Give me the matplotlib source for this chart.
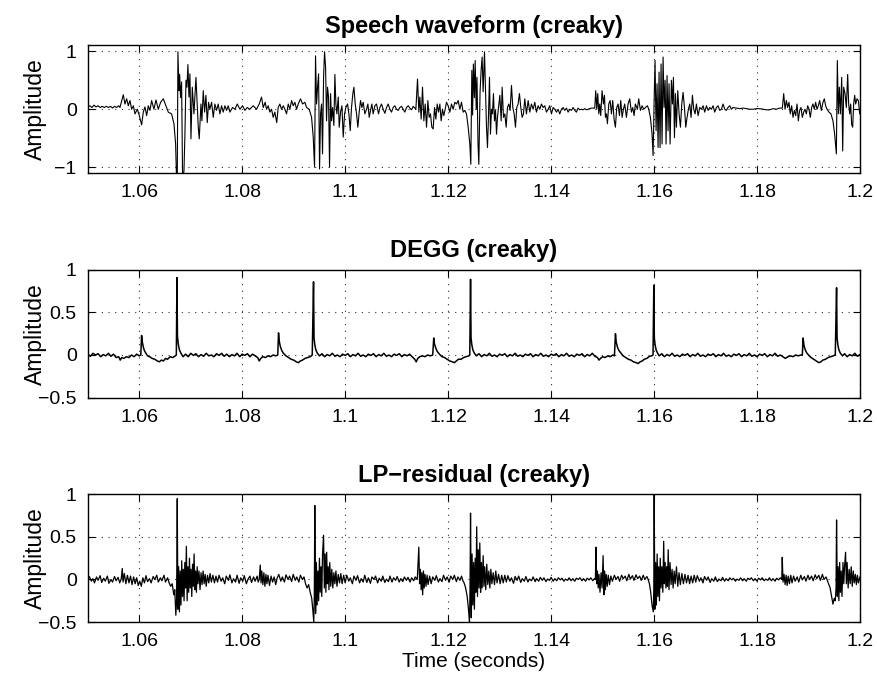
import numpy as np
import matplotlib
matplotlib.use("Agg")
import matplotlib.pyplot as plt

plt.rcParams['font.family'] = ['Liberation Sans', 'DejaVu Sans']

# time in ms, amplitude
speech = [
    (1050.0, 0.04), (1050.4, 0.06), (1050.8, 0.03), (1051.2, 0.07), (1051.6, 0.04), (1052.0, 0.06),
    (1052.4, 0.03), (1052.8, 0.05), (1053.2, 0.03), (1053.6, 0.05), (1054.0, 0.03), (1054.4, 0.05),
    (1054.8, 0.02), (1055.2, 0.05), (1055.6, 0.03), (1056.0, 0.06), (1056.25, 0.03), (1056.9, 0.25),
    (1057.22, 0.09), (1057.55, 0.18), (1057.87, 0.06), (1058.19, 0.15), (1058.52, 0.0), (1058.84, 0.06),
    (1059.17, -0.08), (1059.62, 0.0), (1060.01, -0.11), (1060.46, -0.27), (1060.78, -0.05), (1061.11, 0.04),
    (1061.43, -0.11), (1061.75, 0.06), (1062.08, -0.02), (1062.4, 0.15), (1062.85, 0.0), (1063.24, 0.16),
    (1063.69, 0.0), (1064.15, 0.12), (1064.67, 0.18), (1065.18, 0.06), (1065.64, -0.05), (1066.28, -0.08),
    (1066.74, -0.25), (1067.06, -0.6), (1067.25, -1.25), (1067.38, -1.25), (1067.51, 0.99), (1067.71, 0.32),
    (1067.84, 0.6), (1068.03, 0.2), (1068.22, 0.47), (1068.42, -1.25), (1068.68, -1.06), (1068.87, -0.43),
    (1069.07, 0.5), (1069.26, 0.38), (1069.45, 0.77), (1069.65, 0.21), (1069.84, 0.61), (1070.04, -0.51),
    (1070.3, 0.38), (1070.62, -0.08), (1071.01, 0.55), (1071.27, 0.03), (1071.46, -0.31), (1071.65, -0.51),
    (1071.98, 0.09), (1072.17, -0.2), (1072.43, 0.32), (1072.69, -0.05), (1072.95, 0.24), (1073.21, -0.23),
    (1073.46, 0.12), (1073.72, 0.0), (1074.05, 0.12), (1074.37, -0.14), (1074.69, 0.09), (1075.02, -0.02),
    (1075.34, 0.09), (1075.66, -0.08), (1075.99, 0.06), (1076.31, -0.05), (1076.64, 0.06), (1076.96, -0.02),
    (1077.28, 0.06), (1077.61, -0.05), (1078.12, 0.03), (1078.58, 0.0), (1079.03, 0.09), (1079.55, 0.0),
    (1080.06, 0.06), (1080.52, -0.02), (1080.97, 0.03), (1081.49, 0.0), (1082.13, 0.06), (1082.78, 0.0),
    (1083.3, 0.09), (1083.75, 0.21), (1084.08, 0.03), (1084.46, 0.12), (1084.72, 0.0), (1085.05, 0.06),
    (1085.37, -0.05), (1085.69, 0.0), (1086.02, -0.14), (1086.34, -0.05), (1086.7, -0.23), (1086.99, 0.03),
    (1087.31, 0.09), (1087.63, 0.0), (1087.97, 0.06), (1088.29, 0.0), (1088.61, -0.08), (1088.94, 0.09),
    (1089.26, 0.0), (1089.59, 0.15), (1089.91, 0.06), (1090.23, 0.12), (1090.56, 0.0), (1090.88, 0.09),
    (1091.33, 0.18), (1091.72, 0.09), (1092.17, 0.12), (1092.5, 0.03), (1093.01, 0.0), (1093.47, -0.14),
    (1093.79, -0.48), (1094.05, -1.0), (1094.24, 0.92), (1094.44, 0.09), (1094.63, 0.38), (1094.83, 0.61),
    (1095.02, -1.03), (1095.22, -0.08), (1095.41, 0.09), (1095.6, -0.77), (1095.8, 0.55), (1095.99, 0.99),
    (1096.19, 0.73), (1096.38, -0.2), (1096.57, 0.38), (1096.77, 0.21), (1096.96, -1.0), (1097.16, 0.27),
    (1097.35, -0.2), (1097.55, 0.03), (1097.8, -0.28), (1098.0, 0.6), (1098.19, 0.09), (1098.39, -0.08),
    (1098.65, 0.21), (1098.84, -0.31), (1099.1, -0.05), (1099.36, 0.06), (1099.62, -0.48), (1099.88, -0.08),
    (1100.13, 0.03), (1100.46, 0.09), (1100.72, -0.08), (1100.98, -0.37), (1101.23, 0.03), (1101.49, 0.27),
    (1101.69, 0.38), (1101.95, 0.09), (1102.21, -0.08), (1102.46, -0.31), (1102.72, -0.05), (1102.98, 0.15),
    (1103.24, 0.03), (1103.5, 0.12), (1103.82, -0.08), (1104.15, 0.0), (1104.41, 0.09), (1104.67, -0.14),
    (1104.92, -0.02), (1105.18, 0.09), (1105.44, -0.08), (1105.76, 0.06), (1106.09, 0.09), (1106.48, -0.08),
    (1106.74, 0.03), (1107.06, 0.09), (1107.38, 0.0), (1107.71, -0.07), (1108.03, 0.03), (1108.35, 0.09),
    (1108.68, 0.0), (1109.0, -0.05), (1109.32, 0.03), (1109.65, 0.06), (1109.97, 0.0), (1110.3, -0.02),
    (1110.62, 0.03), (1110.94, 0.05), (1111.27, 0.0), (1111.59, -0.05), (1111.91, 0.03), (1112.24, 0.06),
    (1112.56, 0.02), (1112.88, -0.01), (1113.21, 0.05), (1113.73, 0.0), (1114.05, 0.52), (1114.31, -0.05),
    (1114.5, 0.21), (1114.76, -0.17), (1115.02, 0.38), (1115.28, -0.2), (1115.54, 0.09), (1115.8, -0.31),
    (1116.06, 0.15), (1116.31, -0.14), (1116.57, -0.08), (1116.83, -0.31), (1117.09, -0.34), (1117.35, 0.03),
    (1117.61, -0.17), (1117.87, 0.09), (1118.13, -0.05), (1118.39, 0.09), (1118.64, -0.2), (1118.9, 0.0),
    (1119.16, -0.11), (1119.42, 0.0), (1119.68, 0.12), (1120.0, 0.06), (1120.33, -0.05), (1120.65, 0.09),
    (1120.97, 0.0), (1121.3, 0.12), (1121.62, 0.09), (1121.95, 0.15), (1122.27, 0.0), (1122.59, 0.12),
    (1122.92, -0.05), (1123.24, -0.02), (1123.56, -0.08), (1123.89, -0.31), (1124.21, -0.6), (1124.4, -0.95),
    (1124.6, 0.67), (1124.75, -0.1), (1124.9, 0.78), (1125.1, 0.2), (1125.25, 0.84), (1125.45, 0.0),
    (1125.6, 0.55), (1125.8, -0.6), (1125.96, -0.95), (1126.2, 0.3), (1126.4, 0.67), (1126.6, 0.9),
    (1126.8, 0.3), (1127.06, 0.99), (1127.25, 0.38), (1127.45, -0.31), (1127.64, -0.66), (1127.83, -0.14),
    (1128.03, 0.55), (1128.22, -0.43), (1128.42, 0.0), (1128.61, -0.08), (1128.8, 0.27), (1129.0, -0.2),
    (1129.2, -0.02), (1129.4, -0.43), (1129.58, -0.14), (1129.85, 0.09), (1130.04, 0.24), (1130.3, -0.2),
    (1130.49, 0.38), (1130.75, -0.14), (1131.01, -0.08), (1131.27, -0.31), (1131.52, 0.03), (1131.78, 0.09),
    (1132.04, -0.02), (1132.3, 0.41), (1132.56, 0.03), (1132.82, -0.08), (1133.08, -0.31), (1133.33, 0.03),
    (1133.59, 0.09), (1133.85, 0.27), (1134.11, 0.03), (1134.37, -0.14), (1134.63, -0.08), (1134.89, 0.18),
    (1135.21, -0.08), (1135.54, 0.15), (1135.86, -0.05), (1136.18, 0.09), (1136.51, 0.0), (1136.83, 0.12),
    (1137.15, -0.05), (1137.48, 0.06), (1137.8, 0.0), (1138.12, 0.09), (1138.45, 0.03), (1138.77, 0.06),
    (1139.09, -0.05), (1139.42, 0.0), (1139.74, 0.06), (1140.07, -0.08), (1140.39, 0.03), (1140.71, 0.0),
    (1141.04, -0.05), (1141.36, 0.0), (1141.68, -0.08), (1142.01, 0.0), (1142.33, 0.03), (1142.66, -0.02),
    (1142.98, 0.02), (1143.3, -0.05), (1143.63, 0.0), (1143.95, -0.02), (1144.27, 0.03), (1144.6, -0.02),
    (1144.92, -0.05), (1145.24, 0.02), (1145.57, -0.01), (1145.89, 0.0), (1146.22, -0.01), (1146.54, 0.01),
    (1146.86, -0.01), (1147.19, 0.0), (1147.51, 0.01), (1147.83, 0.02), (1148.48, 0.02), (1148.67, 0.32),
    (1148.87, 0.0), (1149.06, 0.27), (1149.26, -0.08), (1149.45, 0.09), (1149.64, -0.11), (1149.9, 0.32),
    (1150.16, 0.09), (1150.36, 0.24), (1150.55, -0.14), (1150.75, -0.08), (1150.94, -0.25), (1151.2, 0.09),
    (1151.46, 0.15), (1151.72, -0.08), (1151.97, 0.15), (1152.23, -0.17), (1152.49, -0.31), (1152.75, 0.03),
    (1153.01, 0.09), (1153.27, -0.11), (1153.53, 0.15), (1153.79, -0.14), (1154.05, 0.0), (1154.3, 0.09),
    (1154.63, -0.14), (1154.95, 0.09), (1155.27, 0.18), (1155.6, -0.05), (1155.86, 0.03), (1156.12, -0.11),
    (1156.37, 0.09), (1156.76, 0.0), (1157.02, 0.18), (1157.35, -0.02), (1157.67, 0.06), (1157.99, 0.0),
    (1158.32, 0.03), (1158.71, 0.06), (1158.96, 0.0), (1159.29, -0.14), (1159.61, -0.43), (1159.81, -0.8),
    (1160.0, 0.09), (1160.19, 0.84), (1160.39, -0.37), (1160.58, 0.44), (1160.78, -0.66), (1160.97, 0.64),
    (1161.16, -0.66), (1161.36, 0.78), (1161.55, -0.6), (1161.75, 0.9), (1161.94, 0.03), (1162.14, 0.5),
    (1162.33, -0.6), (1162.52, 0.58), (1162.72, -0.37), (1162.91, 0.44), (1163.11, -0.6), (1163.37, 0.5),
    (1163.57, 0.09), (1163.76, 0.55), (1163.96, -0.49), (1164.15, 0.27), (1164.34, -0.31), (1164.6, 0.32),
    (1164.86, -0.08), (1165.12, -0.31), (1165.38, 0.09), (1165.64, 0.29), (1165.9, 0.03), (1166.16, -0.31),
    (1166.41, -0.14), (1166.67, 0.0), (1166.93, 0.09), (1167.19, -0.14), (1167.45, 0.24), (1167.71, 0.0),
    (1167.97, -0.08), (1168.23, 0.09), (1168.55, -0.11), (1168.87, 0.03), (1169.2, 0.0), (1169.52, 0.06),
    (1169.84, -0.05), (1170.17, 0.06), (1170.49, -0.02), (1170.81, 0.03), (1171.14, 0.0), (1171.46, 0.06),
    (1171.78, -0.05), (1172.11, 0.03), (1172.43, 0.06), (1172.76, -0.02), (1173.08, 0.0), (1173.4, 0.09),
    (1173.73, 0.0), (1174.05, -0.02), (1174.37, 0.03), (1174.7, 0.06), (1175.02, 0.0), (1175.34, 0.03),
    (1175.99, 0.02), (1176.64, 0.01), (1177.28, 0.02), (1177.93, 0.01), (1178.58, 0.0), (1179.23, 0.0),
    (1179.87, 0.01), (1180.52, 0.01), (1181.17, 0.0), (1181.81, -0.01), (1182.46, -0.01), (1183.11, 0.01),
    (1183.75, 0.0), (1184.4, 0.02), (1184.92, 0.02), (1185.18, 0.27), (1185.44, 0.0), (1185.7, 0.15),
    (1185.95, 0.03), (1186.21, 0.12), (1186.47, -0.08), (1186.73, 0.06), (1186.99, -0.14), (1187.25, -0.02),
    (1187.51, -0.11), (1187.77, 0.09), (1188.02, -0.2), (1188.28, -0.02), (1188.54, 0.03), (1188.8, -0.14),
    (1189.06, -0.05), (1189.32, 0.0), (1189.58, -0.08), (1189.84, 0.06), (1190.09, 0.0), (1190.35, -0.14),
    (1190.61, 0.03), (1190.87, 0.09), (1191.13, 0.0), (1191.39, 0.12), (1191.65, 0.0), (1191.91, 0.06),
    (1192.17, 0.15), (1192.49, -0.02), (1192.81, 0.12), (1193.07, 0.18), (1193.33, 0.06), (1193.59, 0.0),
    (1193.98, -0.05), (1194.36, -0.08), (1194.75, -0.2), (1195.08, -0.43), (1195.41, -0.77), (1195.6, 0.84),
    (1195.8, -0.08), (1195.99, 0.38), (1196.19, -0.08), (1196.45, 0.55), (1196.64, -0.72), (1196.83, 0.38),
    (1197.09, 0.27), (1197.35, 0.03), (1197.61, 0.6), (1197.8, 0.09), (1198.0, -0.08), (1198.19, 0.09),
    (1198.38, -0.26), (1198.58, -0.31), (1198.77, 0.09), (1198.97, 0.24), (1199.16, 0.09), (1199.42, 0.18),
    (1199.68, 0.15), (1199.94, -0.08), (1200.0, 0.0),
]

degg = [
    (1050.0, 0.01), (1050.5, -0.015), (1051.0, 0.02), (1051.5, 0.0), (1052.0, 0.015), (1052.5, -0.02),
    (1053.0, 0.005), (1053.5, -0.01), (1054.0, 0.02), (1054.5, -0.015), (1055.0, 0.01), (1055.5, -0.03),
    (1056.0, -0.02), (1056.3, -0.06), (1056.6, -0.03), (1057.0, -0.04), (1057.5, -0.02), (1058.0, -0.03),
    (1058.5, 0.0), (1059.0, -0.02), (1059.5, 0.01), (1060.0, -0.01), (1060.3, 0.0), (1060.45, 0.23),
    (1060.6, 0.15), (1060.8, 0.09), (1061.0, 0.05), (1061.3, 0.02), (1061.6, -0.01), (1062.0, -0.02),
    (1062.5, -0.04), (1063.0, -0.05), (1063.5, -0.07), (1063.9, -0.08), (1064.3, -0.06), (1064.7, -0.07),
    (1065.1, -0.04), (1065.5, -0.05), (1066.0, -0.02), (1066.5, -0.03), (1067.0, -0.01), (1067.2, 0.0),
    (1067.32, 0.91), (1067.42, 0.22), (1067.6, 0.12), (1067.8, 0.06), (1068.1, 0.02), (1068.5, -0.02),
    (1069.0, 0.01), (1069.5, -0.02), (1070.0, 0.02), (1070.5, -0.005), (1071.0, 0.015), (1071.5, -0.02),
    (1072.0, 0.005), (1072.5, -0.015), (1073.0, 0.02), (1073.5, -0.01), (1074.0, 0.0), (1074.5, -0.02),
    (1075.0, 0.015), (1075.5, -0.005), (1076.0, 0.02), (1076.5, -0.015), (1077.0, 0.01), (1077.5, -0.02),
    (1078.0, 0.005), (1078.5, -0.01), (1079.0, 0.02), (1079.5, -0.02), (1080.0, 0.01), (1080.5, -0.005),
    (1081.0, 0.015), (1081.5, -0.02), (1082.0, 0.01), (1082.5, -0.01), (1083.0, -0.03), (1083.3, -0.07),
    (1083.6, -0.04), (1084.0, -0.02), (1084.5, -0.03), (1085.0, -0.01), (1085.5, -0.02), (1086.0, 0.0),
    (1086.5, -0.01), (1086.9, 0.0), (1087.05, 0.26), (1087.2, 0.16), (1087.4, 0.1), (1087.7, 0.05),
    (1088.0, 0.02), (1088.5, -0.01), (1089.0, -0.03), (1089.5, -0.05), (1090.0, -0.06), (1090.5, -0.08),
    (1090.9, -0.09), (1091.3, -0.07), (1091.7, -0.06), (1092.2, -0.04), (1092.7, -0.03), (1093.2, -0.02),
    (1093.6, 0.0), (1093.85, 0.86), (1093.95, 0.2), (1094.1, 0.12), (1094.3, 0.06), (1094.6, 0.02),
    (1095.0, -0.01), (1095.5, 0.015), (1096.0, -0.02), (1096.5, 0.005), (1097.0, -0.01), (1097.5, 0.02),
    (1098.0, -0.015), (1098.5, 0.0), (1099.0, -0.02), (1099.5, 0.01), (1100.0, -0.005), (1100.5, 0.015),
    (1101.0, -0.02), (1101.5, 0.005), (1102.0, -0.01), (1102.5, 0.02), (1103.0, -0.015), (1103.5, 0.0),
    (1104.0, -0.02), (1104.5, 0.01), (1105.0, -0.005), (1105.5, 0.015), (1106.0, -0.02), (1106.5, 0.005),
    (1107.0, -0.01), (1107.5, 0.02), (1108.0, -0.015), (1108.5, 0.0), (1109.0, -0.02), (1109.5, 0.01),
    (1110.0, -0.005), (1110.5, 0.015), (1111.0, -0.02), (1111.5, 0.005), (1112.0, -0.01), (1112.5, 0.01),
    (1113.0, -0.02), (1113.5, -0.05), (1113.8, -0.08), (1114.1, -0.04), (1114.5, -0.02), (1115.0, -0.01),
    (1115.5, -0.02), (1116.0, 0.0), (1116.5, -0.01), (1117.0, 0.0), (1117.2, 0.2), (1117.35, 0.13),
    (1117.6, 0.08), (1117.9, 0.04), (1118.3, 0.01), (1118.8, -0.02), (1119.3, -0.03), (1119.8, -0.05),
    (1120.3, -0.07), (1120.8, -0.08), (1121.2, -0.09), (1121.6, -0.07), (1122.0, -0.05), (1122.5, -0.05),
    (1123.0, -0.03), (1123.5, -0.02), (1124.0, -0.01), (1124.2, 0.0), (1124.35, 0.89), (1124.45, 0.2),
    (1124.6, 0.12), (1124.8, 0.06), (1125.1, 0.02), (1125.5, -0.01), (1126.0, 0.015), (1126.5, -0.02),
    (1127.0, 0.005), (1127.5, -0.01), (1128.0, 0.02), (1128.5, -0.015), (1129.0, 0.0), (1129.5, -0.02),
    (1130.0, 0.01), (1130.5, -0.005), (1131.0, 0.015), (1131.5, -0.02), (1132.0, 0.005), (1132.5, -0.01),
    (1133.0, 0.02), (1133.5, -0.015), (1134.0, 0.0), (1134.5, -0.02), (1135.0, 0.01), (1135.5, -0.005),
    (1136.0, 0.015), (1136.5, -0.02), (1137.0, 0.005), (1137.5, -0.01), (1138.0, 0.02), (1138.5, -0.015),
    (1139.0, 0.0), (1139.5, -0.02), (1140.0, 0.01), (1140.5, -0.005), (1141.0, 0.015), (1141.5, -0.02),
    (1142.0, 0.005), (1142.5, -0.01), (1143.0, 0.02), (1143.5, -0.015), (1144.0, 0.0), (1144.5, -0.02),
    (1145.0, 0.01), (1145.5, -0.005), (1146.0, 0.015), (1146.5, -0.02), (1147.0, 0.005), (1147.5, -0.01),
    (1148.0, 0.02), (1148.5, -0.015), (1149.0, -0.03), (1149.3, -0.06), (1149.6, -0.04), (1150.0, -0.02),
    (1150.5, -0.03), (1151.0, -0.01), (1151.5, -0.02), (1152.0, 0.0), (1152.3, -0.01), (1152.5, 0.25),
    (1152.65, 0.15), (1152.9, 0.09), (1153.2, 0.05), (1153.6, 0.02), (1154.0, -0.01), (1154.5, -0.03),
    (1155.0, -0.05), (1155.5, -0.06), (1156.0, -0.08), (1156.5, -0.09), (1156.9, -0.1), (1157.3, -0.08),
    (1157.7, -0.07), (1158.1, -0.05), (1158.6, -0.04), (1159.0, -0.02), (1159.5, -0.01), (1159.8, 0.0),
    (1159.95, 0.82), (1160.05, 0.2), (1160.2, 0.12), (1160.4, 0.06), (1160.7, 0.02), (1161.0, -0.01),
    (1161.5, 0.015), (1162.0, -0.02), (1162.5, 0.005), (1163.0, -0.01), (1163.5, 0.02), (1164.0, -0.015),
    (1164.5, 0.0), (1165.0, -0.02), (1165.5, 0.01), (1166.0, -0.005), (1166.5, 0.015), (1167.0, -0.02),
    (1167.5, 0.005), (1168.0, -0.01), (1168.5, 0.02), (1169.0, -0.015), (1169.5, 0.0), (1170.0, -0.02),
    (1170.5, 0.01), (1171.0, -0.005), (1171.5, 0.015), (1172.0, -0.02), (1172.5, 0.005), (1173.0, -0.01),
    (1173.5, 0.02), (1174.0, -0.015), (1174.5, 0.0), (1175.0, -0.02), (1175.5, 0.01), (1176.0, -0.005),
    (1176.5, 0.015), (1177.0, -0.02), (1177.5, 0.005), (1178.0, -0.01), (1178.5, 0.02), (1179.0, -0.015),
    (1179.5, 0.0), (1180.0, -0.02), (1180.5, 0.01), (1181.0, -0.005), (1181.5, 0.015), (1182.0, -0.02),
    (1182.5, 0.005), (1183.0, -0.01), (1183.5, 0.02), (1184.0, -0.015), (1184.5, 0.0), (1185.0, -0.02),
    (1185.5, -0.04), (1186.0, -0.02), (1186.5, -0.01), (1187.0, -0.02), (1187.5, 0.0), (1188.0, -0.01),
    (1188.5, 0.0), (1188.8, 0.0), (1188.95, 0.2), (1189.1, 0.12), (1189.3, 0.07), (1189.6, 0.03),
    (1190.0, 0.0), (1190.5, -0.03), (1191.0, -0.05), (1191.5, -0.07), (1192.0, -0.09), (1192.4, -0.08),
    (1192.8, -0.06), (1193.3, -0.05), (1193.8, -0.03), (1194.3, -0.02), (1194.8, -0.01), (1195.2, 0.0),
    (1195.45, 0.79), (1195.55, 0.2), (1195.7, 0.12), (1195.9, 0.06), (1196.2, 0.02), (1196.6, -0.01),
    (1197.0, 0.015), (1197.5, -0.02), (1198.0, 0.005), (1198.5, -0.01), (1199.0, 0.02), (1199.5, -0.015),
    (1200.0, 0.005),
]

lp_residual = [
    (1050.0, 0.0), (1050.3, 0.035), (1050.7, -0.02), (1051.0, 0.01), (1051.3, -0.04), (1051.7, 0.03),
    (1052.0, -0.01), (1052.4, 0.045), (1052.7, -0.035), (1053.1, 0.015), (1053.4, -0.02), (1053.8, 0.04),
    (1054.1, -0.045), (1054.5, 0.0), (1054.8, -0.03), (1055.2, 0.035), (1055.5, -0.015), (1055.9, 0.025),
    (1056.2, -0.04), (1056.5, 0.01), (1056.7, 0.13), (1056.85, -0.03), (1057.1, 0.07), (1057.4, -0.05),
    (1057.7, 0.05), (1058.0, -0.04), (1058.3, 0.04), (1058.6, -0.06), (1058.9, 0.03), (1059.2, -0.05),
    (1059.5, 0.02), (1059.8, -0.07), (1060.1, -0.02), (1060.4, -0.08), (1060.7, 0.02), (1061.0, -0.04),
    (1061.3, 0.045), (1061.6, -0.025), (1062.0, 0.01), (1062.3, -0.04), (1062.7, 0.035), (1063.0, 0.0),
    (1063.4, 0.05), (1063.7, -0.03), (1064.1, 0.02), (1064.4, -0.015), (1064.8, 0.05), (1065.1, -0.03),
    (1065.5, 0.02), (1065.8, -0.04), (1066.1, -0.08), (1066.4, -0.05), (1066.7, -0.18), (1066.9, -0.12),
    (1067.1, -0.42), (1067.25, -0.25), (1067.38, 0.95), (1067.5, -0.35), (1067.65, 0.15), (1067.8, -0.38),
    (1067.95, 0.1), (1068.1, -0.3), (1068.25, 0.22), (1068.4, -0.2), (1068.55, 0.12), (1068.7, -0.25),
    (1068.85, 0.2), (1069.0, -0.1), (1069.15, 0.39), (1069.3, -0.25), (1069.45, 0.15), (1069.6, -0.15),
    (1069.75, 0.25), (1069.9, -0.1), (1070.05, 0.12), (1070.2, -0.2), (1070.35, 0.18), (1070.5, -0.08),
    (1070.65, 0.3), (1070.8, -0.12), (1070.95, 0.1), (1071.1, -0.15), (1071.25, 0.15), (1071.4, -0.05),
    (1071.6, 0.1), (1071.8, -0.12), (1072.0, 0.08), (1072.2, -0.06), (1072.4, 0.1), (1072.6, -0.05),
    (1072.8, 0.06), (1073.0, -0.08), (1073.25, 0.05), (1073.5, -0.04), (1073.75, 0.07), (1074.0, -0.03),
    (1074.3, 0.05), (1074.6, -0.04), (1074.9, 0.04), (1075.2, -0.03), (1075.5, 0.05), (1075.9, -0.02),
    (1076.2, 0.02), (1076.6, -0.05), (1076.9, 0.04), (1077.3, -0.01), (1077.6, 0.055), (1078.0, -0.04),
    (1078.3, 0.01), (1078.7, -0.03), (1079.0, 0.05), (1079.4, -0.045), (1079.7, 0.02), (1080.1, -0.02),
    (1080.4, 0.045), (1080.8, -0.05), (1081.1, 0.0), (1081.5, 0.04), (1081.8, -0.035), (1082.2, 0.03),
    (1082.5, -0.02), (1082.9, 0.04), (1083.1, -0.03), (1083.3, 0.0), (1083.5, 0.17), (1083.65, -0.04),
    (1083.8, 0.1), (1084.0, -0.06), (1084.2, 0.08), (1084.4, -0.08), (1084.6, 0.06), (1084.8, -0.05),
    (1085.0, 0.05), (1085.3, -0.07), (1085.6, 0.04), (1085.9, -0.03), (1086.2, 0.03), (1086.5, -0.06),
    (1086.8, 0.02), (1087.1, 0.06), (1087.5, -0.02), (1087.8, 0.03), (1088.2, -0.03), (1088.5, 0.055),
    (1088.9, 0.0), (1089.2, 0.04), (1089.6, -0.025), (1089.9, 0.06), (1090.3, -0.01), (1090.6, 0.03),
    (1091.0, -0.03), (1091.3, 0.05), (1091.7, 0.0), (1092.0, 0.03), (1092.3, -0.05), (1092.6, -0.1),
    (1092.9, -0.06), (1093.2, -0.15), (1093.5, -0.22), (1093.7, -0.35), (1093.9, -0.5), (1094.0, -0.2),
    (1094.1, 0.87), (1094.25, -0.4), (1094.4, 0.2), (1094.55, -0.3), (1094.7, 0.1), (1094.85, -0.25),
    (1095.0, 0.25), (1095.15, -0.15), (1095.3, 0.15), (1095.45, -0.2), (1095.6, 0.3), (1095.8, 0.52),
    (1095.95, -0.1), (1096.1, 0.3), (1096.25, -0.15), (1096.4, 0.32), (1096.55, -0.05), (1096.7, 0.15),
    (1096.85, -0.12), (1097.0, 0.2), (1097.2, -0.08), (1097.4, 0.12), (1097.6, -0.1), (1097.8, 0.08),
    (1098.0, -0.05), (1098.2, 0.1), (1098.4, -0.08), (1098.65, 0.06), (1098.9, -0.04), (1099.15, 0.07),
    (1099.4, -0.05), (1099.7, 0.05), (1100.0, -0.04), (1100.3, 0.05), (1100.7, -0.02), (1101.0, 0.02),
    (1101.4, -0.05), (1101.7, 0.04), (1102.1, -0.01), (1102.4, 0.045), (1102.8, -0.04), (1103.1, 0.01),
    (1103.5, -0.03), (1103.8, 0.05), (1104.2, -0.035), (1104.5, 0.02), (1104.9, -0.045), (1105.2, 0.03),
    (1105.6, 0.0), (1105.9, 0.04), (1106.3, -0.04), (1106.6, 0.015), (1107.0, -0.02), (1107.3, 0.04),
    (1107.7, -0.035), (1108.0, 0.005), (1108.4, -0.025), (1108.7, 0.04), (1109.1, -0.03), (1109.4, 0.02),
    (1109.8, -0.01), (1110.1, 0.035), (1110.5, -0.03), (1110.8, 0.01), (1111.2, -0.025), (1111.5, 0.03),
    (1111.9, -0.01), (1112.2, 0.025), (1112.6, -0.03), (1112.9, 0.02), (1113.3, -0.015), (1113.6, 0.03),
    (1114.0, 0.0), (1114.3, 0.38), (1114.45, -0.05), (1114.6, 0.12), (1114.75, -0.12), (1114.9, 0.08),
    (1115.05, -0.18), (1115.2, 0.1), (1115.35, -0.1), (1115.5, 0.06), (1115.7, -0.08), (1115.9, 0.05),
    (1116.1, -0.06), (1116.4, 0.04), (1116.7, -0.05), (1117.0, 0.03), (1117.4, -0.01), (1117.7, 0.045),
    (1118.1, -0.03), (1118.4, 0.01), (1118.8, -0.025), (1119.1, 0.05), (1119.5, -0.01), (1119.8, 0.03),
    (1120.2, -0.03), (1120.5, 0.04), (1120.9, 0.0), (1121.2, 0.05), (1121.6, -0.025), (1121.9, 0.03),
    (1122.3, -0.01), (1122.6, 0.04), (1122.9, -0.02), (1123.1, -0.04), (1123.4, -0.1), (1123.7, -0.2),
    (1123.95, -0.35), (1124.15, -0.5), (1124.25, -0.1), (1124.35, 0.78), (1124.5, -0.45), (1124.65, 0.3),
    (1124.8, -0.3), (1124.95, 0.2), (1125.1, -0.35), (1125.25, 0.25), (1125.4, -0.15), (1125.55, 0.62),
    (1125.7, -0.2), (1125.85, 0.35), (1126.0, -0.1), (1126.15, 0.43), (1126.3, -0.15), (1126.45, 0.2),
    (1126.6, -0.1), (1126.8, 0.28), (1126.95, -0.08), (1127.1, 0.15), (1127.3, -0.12), (1127.5, 0.18),
    (1127.7, -0.06), (1127.9, 0.1), (1128.1, -0.1), (1128.3, 0.12), (1128.5, -0.05), (1128.75, 0.08),
    (1129.0, -0.06), (1129.25, 0.1), (1129.5, -0.04), (1129.8, 0.06), (1130.1, -0.05), (1130.4, 0.05),
    (1130.7, -0.04), (1131.0, 0.05), (1131.3, -0.03), (1131.6, 0.045), (1132.0, -0.02), (1132.3, 0.02),
    (1132.7, -0.045), (1133.0, 0.035), (1133.4, -0.01), (1133.7, 0.04), (1134.1, -0.035), (1134.4, 0.01),
    (1134.8, -0.02), (1135.1, 0.035), (1135.5, -0.03), (1135.8, 0.005), (1136.2, -0.015), (1136.5, 0.03),
    (1136.9, -0.025), (1137.2, 0.01), (1137.6, -0.02), (1137.9, 0.025), (1138.3, -0.01), (1138.6, 0.02),
    (1139.0, -0.025), (1139.3, 0.005), (1139.7, -0.01), (1140.0, 0.025), (1140.4, -0.02), (1140.7, 0.01),
    (1141.1, -0.015), (1141.4, 0.02), (1141.8, -0.005), (1142.1, 0.015), (1142.5, -0.02), (1142.8, 0.005),
    (1143.2, -0.01), (1143.5, 0.02), (1143.9, -0.015), (1144.2, 0.01), (1144.6, -0.02), (1144.9, 0.015),
    (1145.3, 0.0), (1145.6, 0.02), (1146.0, -0.015), (1146.3, 0.01), (1146.7, -0.02), (1147.0, 0.015),
    (1147.4, -0.005), (1147.7, 0.02), (1148.1, -0.015), (1148.4, 0.01), (1148.6, 0.0), (1148.7, 0.38),
    (1148.85, -0.05), (1149.0, 0.1), (1149.15, -0.1), (1149.3, 0.06), (1149.5, -0.15), (1149.7, 0.08),
    (1149.9, -0.1), (1150.1, 0.28), (1150.25, -0.18), (1150.4, 0.1), (1150.55, -0.12), (1150.7, 0.06),
    (1150.9, -0.08), (1151.1, 0.05), (1151.35, -0.06), (1151.6, 0.04), (1151.9, -0.02), (1152.3, 0.05),
    (1152.6, 0.0), (1153.0, 0.035), (1153.3, -0.02), (1153.7, 0.05), (1154.0, 0.01), (1154.4, 0.04),
    (1154.7, -0.015), (1155.1, 0.06), (1155.4, 0.005), (1155.8, 0.045), (1156.1, -0.01), (1156.5, 0.055),
    (1156.8, 0.01), (1157.2, 0.04), (1157.5, -0.01), (1157.9, 0.05), (1158.2, 0.0), (1158.6, 0.035),
    (1158.8, 0.01), (1159.1, -0.05), (1159.35, -0.15), (1159.6, -0.3), (1159.85, -0.38), (1159.95, -0.1),
    (1160.02, 1.02), (1160.15, -0.35), (1160.3, 0.2), (1160.45, -0.3), (1160.6, 0.3), (1160.75, -0.2),
    (1160.9, 0.15), (1161.05, -0.25), (1161.2, 0.25), (1161.35, -0.1), (1161.5, 0.15), (1161.7, -0.15),
    (1161.87, 0.45), (1162.0, -0.05), (1162.15, 0.2), (1162.3, -0.1), (1162.45, 0.15), (1162.6, -0.08),
    (1162.75, 0.35), (1162.9, -0.12), (1163.1, 0.2), (1163.3, -0.06), (1163.5, 0.12), (1163.7, -0.1),
    (1163.9, 0.1), (1164.1, -0.05), (1164.35, 0.15), (1164.6, -0.08), (1164.85, 0.08), (1165.1, -0.06),
    (1165.4, 0.07), (1165.7, -0.05), (1166.0, 0.06), (1166.3, -0.04), (1166.6, 0.05), (1166.9, -0.05),
    (1167.2, 0.04), (1167.5, -0.04), (1167.8, 0.05), (1168.1, -0.03), (1168.4, 0.045), (1168.8, -0.02),
    (1169.1, 0.02), (1169.5, -0.04), (1169.8, 0.035), (1170.2, -0.01), (1170.5, 0.03), (1170.9, -0.035),
    (1171.2, 0.01), (1171.6, -0.02), (1171.9, 0.03), (1172.3, -0.025), (1172.6, 0.005), (1173.0, -0.015),
    (1173.3, 0.025), (1173.7, -0.02), (1174.0, 0.01), (1174.4, -0.015), (1174.7, 0.02), (1175.1, -0.005),
    (1175.4, 0.015), (1175.8, -0.02), (1176.1, 0.005), (1176.5, -0.01), (1176.8, 0.02), (1177.2, -0.015),
    (1177.5, 0.01), (1177.9, -0.02), (1178.2, 0.015), (1178.6, 0.0), (1178.9, 0.02), (1179.3, -0.015),
    (1179.6, 0.01), (1180.0, -0.02), (1180.3, 0.015), (1180.7, -0.005), (1181.0, 0.02), (1181.4, -0.015),
    (1181.7, 0.005), (1182.1, -0.01), (1182.4, 0.02), (1182.8, -0.015), (1183.1, 0.01), (1183.5, -0.02),
    (1183.8, 0.015), (1184.2, -0.005), (1184.5, 0.02), (1184.8, 0.0), (1184.9, 0.26), (1185.05, -0.03),
    (1185.25, 0.06), (1185.45, -0.06), (1185.65, 0.05), (1185.85, -0.07), (1186.05, 0.04), (1186.3, -0.05),
    (1186.55, 0.05), (1186.8, -0.04), (1187.1, 0.04), (1187.4, -0.02), (1187.8, 0.03), (1188.1, -0.03),
    (1188.5, 0.05), (1188.8, -0.005), (1189.2, 0.035), (1189.5, -0.02), (1189.9, 0.05), (1190.2, 0.0),
    (1190.6, 0.04), (1190.9, -0.015), (1191.3, 0.055), (1191.6, 0.01), (1192.0, 0.05), (1192.3, -0.01),
    (1192.7, 0.06), (1193.0, 0.0), (1193.4, 0.03), (1193.9, -0.05), (1194.2, -0.1), (1194.5, -0.2),
    (1194.75, -0.29), (1195.0, -0.22), (1195.2, -0.25), (1195.35, -0.1), (1195.45, 0.7), (1195.6, -0.2),
    (1195.75, 0.15), (1195.9, -0.25), (1196.05, 0.2), (1196.2, -0.15), (1196.35, 0.1), (1196.5, -0.2),
    (1196.7, 0.2), (1196.85, -0.05), (1197.0, 0.15), (1197.2, 0.32), (1197.35, -0.05), (1197.5, 0.2),
    (1197.7, -0.1), (1197.9, 0.12), (1198.1, -0.05), (1198.3, 0.15), (1198.5, -0.08), (1198.7, 0.1),
    (1198.9, -0.04), (1199.1, 0.06), (1199.3, -0.06), (1199.5, 0.05), (1199.7, -0.04), (1200.0, 0.03),
]

titles = ['Speech waveform (creaky)', 'DEGG (creaky)', 'LP\u2212residual (creaky)']
ylims = [(-1.1, 1.1), (-0.5, 1.0), (-0.5, 1.0)]
yticks = [[-1, 0, 1], [-0.5, 0, 0.5, 1], [-0.5, 0, 0.5, 1]]
xticks = [1.06, 1.08, 1.1, 1.12, 1.14, 1.16, 1.18, 1.2]
xlim = (1.05, 1.2)
signals = [speech, degg, lp_residual]
widths = [0.8, 1.1, 0.9]

fig = plt.figure(figsize=(8.77, 6.77), dpi=100)
bottoms = [0.7444, 0.4128, 0.0812]

for i in range(3):
    ax = fig.add_axes([0.1001, bottoms[i], 0.8805, 0.1885])
    data = np.array(signals[i])
    t = data[:, 0] / 1000.0
    ax.plot(t, data[:, 1], color='black', linewidth=widths[i])
    ax.set_xlim(*xlim)
    ax.set_ylim(*ylims[i])
    ax.set_xticks(xticks)
    ax.set_xticklabels(['%g' % x for x in xticks])
    ax.set_yticks(yticks[i])
    ax.set_yticklabels([('%g' % y).replace('-', '\u2212') for y in yticks[i]])
    ax.grid(True, color='#303030', linestyle=(0, (1, 5)), linewidth=0.8)
    ax.tick_params(direction='in', top=True, right=True, length=5, width=0.8,
                   labelsize=14, pad=8)
    for s in ax.spines.values():
        s.set_linewidth(1.0)
    ax.set_title(titles[i], fontsize=17, fontweight='bold', pad=9)
    ax.set_ylabel('Amplitude', fontsize=16.5)
    ax.yaxis.set_label_coords(-0.053, 0.5)
    if i == 2:
        ax.set_xlabel('Time (seconds)', fontsize=15, labelpad=1)

fig.savefig('out.png', dpi=100)
